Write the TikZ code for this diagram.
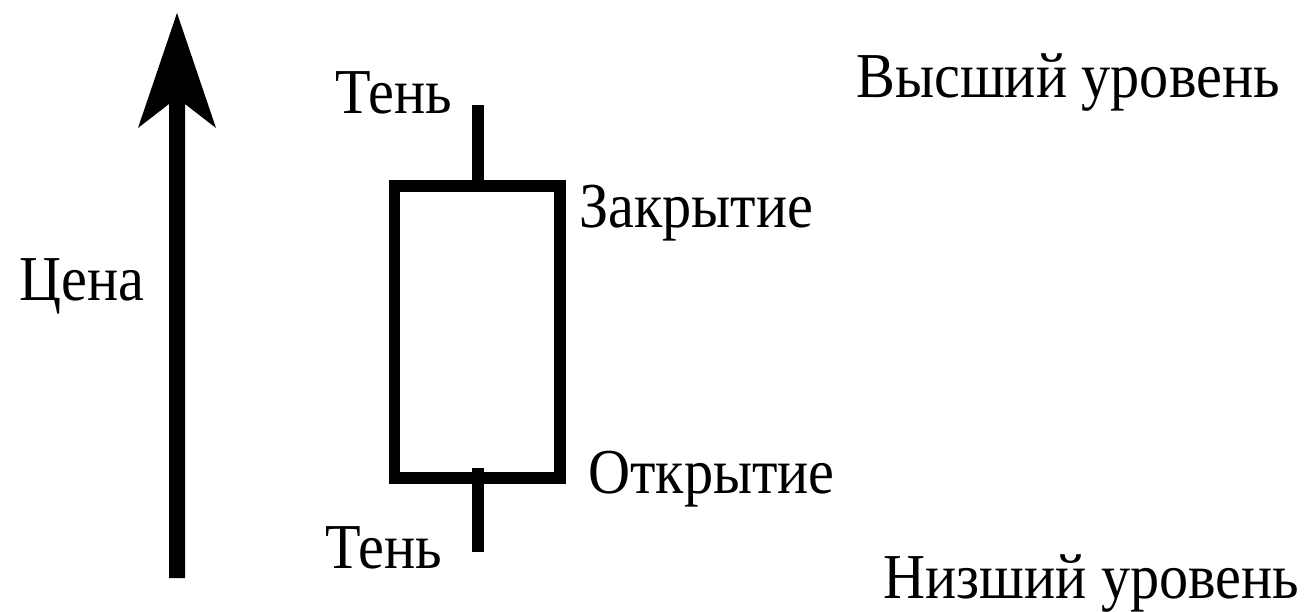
\documentclass[tikz,border=0pt]{standalone}
\usepackage{fontspec}
\setmainfont{Liberation Serif}[FakeStretch=0.91]
\begin{document}
\begin{tikzpicture}[x=1pt,y=-1pt,
  lbl/.style={anchor=base west,inner sep=0pt,font=\fontsize{64}{70}\selectfont},
  body/.style={line width=11.5pt},
  wick/.style={line width=12pt}]
\useasboundingbox[fill=white] (0,0) rectangle (1304,611);
% price arrow
\fill (177,13) -- (216,128) -- (185,104) -- (185,578) -- (169,578) -- (169,104) -- (138,128) -- cycle;
% candle body and wicks
\draw[body] (394.5,186) rectangle (560,478);
\coordinate (ut) at (478,105);
\coordinate (ub) at (478,186);
\coordinate (lt) at (478,468);
\coordinate (lb) at (478,552);
\draw[wick] (ut) -- (ub);
\draw[wick] (lt) -- (lb);
% labels
\node[lbl] (ten1) at (335,113) {Тень};
\node[lbl] (price) at (19,300) {Цена};
\node[lbl] (high) at (856,97) {Высший уровень};
\node[lbl] (close) at (579,227) {Закрытие};
\node[lbl] (open) at (588,493) {Открытие};
\node[lbl] (ten2) at (325,568) {Тень};
\node[lbl] (low) at (883,598) {Низший уровень};
\end{tikzpicture}
\end{document}
